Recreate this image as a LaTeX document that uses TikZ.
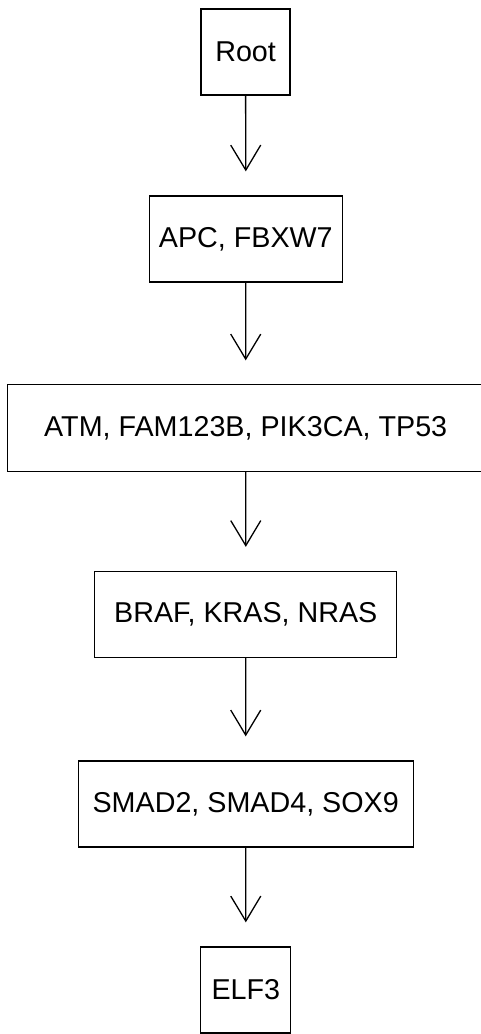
\documentclass[tikz,border=0pt]{standalone}
\usepackage{fontspec}
\setmainfont{Liberation Sans}
\usetikzlibrary{arrows.meta}
\begin{document}
\begin{tikzpicture}[x=1pt,y=-1pt,
  box/.style={draw, line width=1.3pt, rectangle, inner sep=0pt, minimum height=86pt, font=\fontsize{28.7}{32}\selectfont},
  arr/.style={line width=1.3pt, -{Straight Barb[length=25pt,width=30pt,line width=1.3pt]}}]
\useasboundingbox (0,0) rectangle (481,1034);
\clip (0,0) rectangle (481,1034);
\node[box, minimum width=89pt]  (root) at (245.6,52)  {Root};
\node[box, minimum width=193pt] (apc)  at (245.8,239) {APC, FBXW7};
\node[box, draw=none, minimum width=475pt] (atm)  at (245.7,428) {ATM, FAM123B, PIK3CA, TP53};
\draw[line width=1.3pt] (atm.north west) rectangle ([xshift=12pt]atm.south east);
\node[box, minimum width=302pt] (braf) at (245.8,614.5) {BRAF, KRAS, NRAS};
\node[box, minimum width=335pt] (smad) at (245.7,804) {SMAD2, SMAD4, SOX9};
\node[box, minimum width=90pt]  (elf)  at (245.8,990) {ELF3};
\draw[arr] (root.south) -- ([yshift=24pt]apc.north);
\draw[arr] (apc.south) -- ([yshift=24pt]atm.north);
\draw[arr] (atm.south) -- ([yshift=24pt]braf.north);
\draw[arr] (braf.south) -- ([yshift=24pt]smad.north);
\draw[arr] (smad.south) -- ([yshift=24pt]elf.north);
\end{tikzpicture}
\end{document}
